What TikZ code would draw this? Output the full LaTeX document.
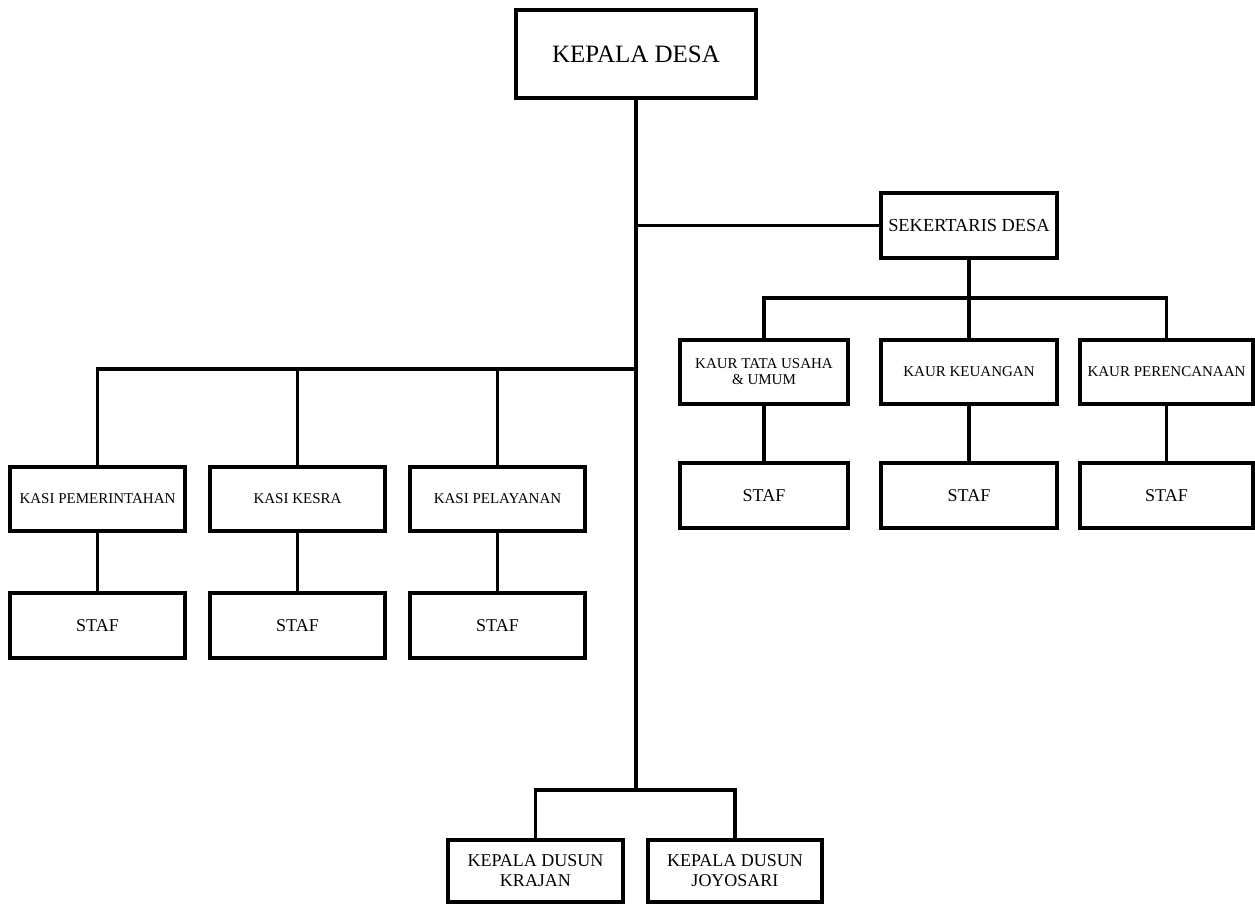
\documentclass[tikz,border=0pt]{standalone}
\usepackage{fontspec}
\setmainfont{Liberation Serif}
\begin{document}
\begin{tikzpicture}[x=0.5pt,y=-0.5pt,
  box/.style={draw=black,line width=1.6pt,fill=white,inner sep=0pt,align=center,font=\fontsize{9}{10}\selectfont},
  link/.style={draw=black,line width=1.6pt,line join=miter},
  kaurbox/.style={box,minimum width=#1*0.5pt,minimum height=32pt,font=\fontsize{7.5}{8}\selectfont},
  stafbox/.style={box,minimum width=#1*0.5pt,minimum height=32.5pt,font=\fontsize{9}{10}\selectfont}]
\useasboundingbox[fill=white] (0,0) rectangle (1255,904);

% top
\node[box,minimum width=120pt,minimum height=44pt,font=\fontsize{12.5}{14}\selectfont] (kd) at (636,54) {KEPALA DESA};
\node[box,minimum width=88pt,minimum height=32.5pt,font=\fontsize{9.2}{10}\selectfont] (sek) at (969,225.5) {SEKERTARIS DESA};

% kaur row
\node[kaurbox=168] (kaur1) at (764,372) {KAUR TATA USAHA\\\& UMUM};
\node[kaurbox=176] (kaur2) at (969,372) {KAUR KEUANGAN};
\node[kaurbox=173] (kaur3) at (1166.5,372) {KAUR PERENCANAAN};
\node[stafbox=168] (stafr1) at (764,495.5) {STAF};
\node[stafbox=176] (stafr2) at (969,495.5) {STAF};
\node[stafbox=173] (stafr3) at (1166.5,495.5) {STAF};

% kasi row
\node[kaurbox=175] (kasi1) at (97.5,499) {KASI PEMERINTAHAN};
\node[kaurbox=175] (kasi2) at (297.5,499) {KASI KESRA};
\node[kaurbox=175] (kasi3) at (497.5,499) {KASI PELAYANAN};
\node[stafbox=175] (stafl1) at (97.5,625.5) {STAF};
\node[stafbox=175] (stafl2) at (297.5,625.5) {STAF};
\node[stafbox=175] (stafl3) at (497.5,625.5) {STAF};

% dusun
\node[box,minimum width=87.5pt,minimum height=31pt] (dus1) at (535.5,871) {KEPALA DUSUN\\KRAJAN};
\node[box,minimum width=87pt,minimum height=31pt] (dus2) at (735,871) {KEPALA DUSUN\\JOYOSARI};

% junction points
\coordinate (m1) at (636,225.5);
\coordinate (m2) at (636,369);
\coordinate (m3) at (636,790);
\coordinate (ks) at (969,298);

% connectors
\draw[link] (kd.south) -- (m3);
\draw[link] (m1) -- (sek.west);
\draw[link] (sek.south) -- (ks);
\draw[link] (kaur1.north) |- (ks) -| (kaur3.north);
\draw[link] (ks) -- (kaur2.north);
\draw[link] (kasi1.north) |- (m2);
\draw[link] (kasi2.north) -- (kasi2.north |- m2);
\draw[link] (kasi3.north) -- (kasi3.north |- m2);
\draw[link] (dus1.north) |- (m3) -| (dus2.north);
\foreach \a/\b in {kaur1/stafr1,kaur2/stafr2,kaur3/stafr3,kasi1/stafl1,kasi2/stafl2,kasi3/stafl3}
  \draw[link] (\a.south) -- (\b.north);
\end{tikzpicture}
\end{document}
